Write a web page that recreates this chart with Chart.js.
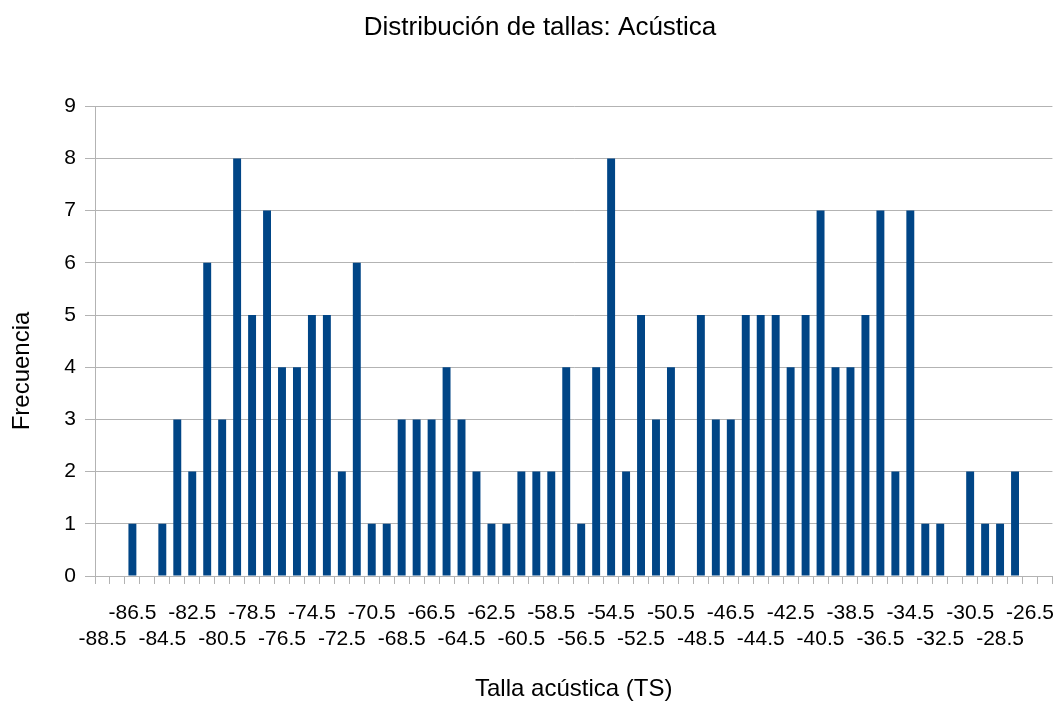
<!DOCTYPE html>
<html lang="es">
<head>
<meta charset="utf-8">
<title>Distribución de tallas: Acústica</title>
<script src="https://cdn.jsdelivr.net/npm/chart.js@4.4.1/dist/chart.umd.min.js"></script>
<style>
  html, body { margin: 0; padding: 0; background: #fff; }
</style>
</head>
<body>
<canvas id="chart" width="1061" height="701"></canvas>
<script>
const tallas = [
  '-88.5', '-87.5', '-86.5', '-85.5', '-84.5', '-83.5', '-82.5', '-81.5',
  '-80.5', '-79.5', '-78.5', '-77.5', '-76.5', '-75.5', '-74.5', '-73.5',
  '-72.5', '-71.5', '-70.5', '-69.5', '-68.5', '-67.5', '-66.5', '-65.5',
  '-64.5', '-63.5', '-62.5', '-61.5', '-60.5', '-59.5', '-58.5', '-57.5',
  '-56.5', '-55.5', '-54.5', '-53.5', '-52.5', '-51.5', '-50.5', '-49.5',
  '-48.5', '-47.5', '-46.5', '-45.5', '-44.5', '-43.5', '-42.5', '-41.5',
  '-40.5', '-39.5', '-38.5', '-37.5', '-36.5', '-35.5', '-34.5', '-33.5',
  '-32.5', '-31.5', '-30.5', '-29.5', '-28.5', '-27.5', '-26.5', '-25.5'
];
const frecuencias = [
  0, 0, 1, 0, 1, 3, 2, 6,
  3, 8, 5, 7, 4, 4, 5, 5,
  2, 6, 1, 1, 3, 3, 3, 4,
  3, 2, 1, 1, 2, 2, 2, 4,
  1, 4, 8, 2, 5, 3, 4, 0,
  5, 3, 3, 5, 5, 5, 4, 5,
  7, 4, 4, 5, 7, 2, 7, 1,
  1, 0, 2, 1, 1, 2, 0, 0
];
const yMin = 0;
const yMax = 9;
const titulo = 'Distribución de tallas: Acústica';
const tituloX = 'Talla acústica (TS)';
const tituloY = 'Frecuencia';

const fuente = '"Liberation Sans", Arial, sans-serif';
const gris = '#b3b3b3';

// Título del eje Y (en LibreOffice no va centrado en el área del gráfico)
const tituloEjeY = {
  id: 'tituloEjeY',
  afterDraw(chart) {
    const ctx = chart.ctx;
    ctx.save();
    ctx.translate(22, 371);
    ctx.rotate(-Math.PI / 2);
    ctx.font = '24px ' + fuente;
    ctx.fillStyle = '#000';
    ctx.textAlign = 'center';
    ctx.textBaseline = 'middle';
    ctx.fillText(tituloY, 0, 0);
    ctx.restore();
  }
};

const ctx = document.getElementById('chart').getContext('2d');
new Chart(ctx, {
  type: 'bar',
  data: {
    labels: tallas,
    datasets: [{
      label: tituloY,
      data: frecuencias,
      backgroundColor: '#004586',
      borderWidth: 0,
      barPercentage: 0.53,
      categoryPercentage: 1.0
    }]
  },
  options: {
    responsive: false,
    animation: false,
    layout: { padding: { left: 25, right: 6, top: 0, bottom: 0 } },
    plugins: {
      legend: { display: false },
      tooltip: { enabled: false },
      title: {
        display: true,
        text: titulo,
        color: '#000',
        font: { family: fuente, size: 26, weight: 'normal', lineHeight: 1.2 },
        padding: { top: 12, bottom: 63 }
      }
    },
    scales: {
      x: {
        grid: { offset: true, drawOnChartArea: false, drawTicks: true, tickLength: 8, color: gris },
        border: { color: gris },
        ticks: {
          autoSkip: false,
          maxRotation: 0,
          minRotation: 0,
          padding: 16,
          color: '#000',
          font: { family: fuente, size: 21, lineHeight: 1.25 },
          // etiquetas cada 2 clases, escalonadas en dos filas
          callback: function (value, index) {
            const lab = this.getLabelForValue(value);
            if (index % 2 === 1) return '';
            return index % 4 === 2 ? lab : ['', lab];
          }
        },
        title: {
          display: true,
          text: tituloX,
          color: '#000',
          font: { family: fuente, size: 24, lineHeight: 1 },
          padding: { top: 0, bottom: 0 }
        },
        afterFit: (s) => { s.height = 125; }
      },
      y: {
        min: yMin,
        max: yMax,
        grid: { color: gris, tickLength: 10 },
        border: { color: gris },
        ticks: {
          stepSize: 1,
          padding: 9,
          color: '#000',
          font: { family: fuente, size: 21 }
        },
        afterFit: (s) => { s.width = 70; }
      }
    }
  },
  plugins: [tituloEjeY]
});
</script>
</body>
</html>
